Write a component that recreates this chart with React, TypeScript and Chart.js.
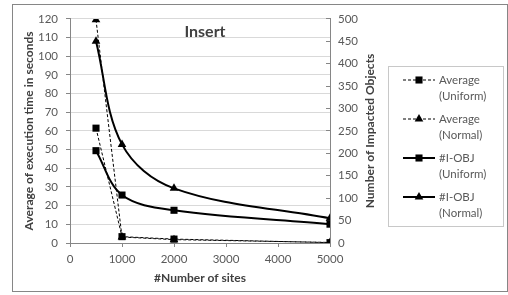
import React, { useEffect, useRef } from "react";
import { Chart, registerables } from "chart.js";

Chart.register(...registerables);

// ---- data ----
const sites = [500, 1000, 2000, 5000];
const avgUniform = [61.5, 3.4, 2.1, 0.2];
const avgNormal = [119.5, 3.2, 1.8, 0.3];
const iobjUniform = [206, 107, 73, 42];
const iobjNormal = [450, 220, 122, 55];
const seriesLabels = [
  ["Average", "(Uniform)"],
  ["Average", "(Normal)"],
  ["#I-OBJ", "(Uniform)"],
  ["#I-OBJ", "(Normal)"],
];
const chartTitle = "Insert";
const xTitle = "#Number of sites";
const yLeftTitle = "Average of execution time in seconds";
const yRightTitle = "Number of Impacted Objects";

const FONT = "Lato, 'Noto Sans', sans-serif";
const TICK_COLOR = "#595959";
const TITLE_COLOR = "#404040";
const AXIS_COLOR = "#868686";
const GRID_COLOR = "#d9d9d9";

function drawMarker(ctx: CanvasRenderingContext2D, style: string, x: number, y: number, r: number) {
  ctx.beginPath();
  if (style === "rect") {
    const s = Math.SQRT1_2 * r;
    ctx.rect(x - s, y - s, 2 * s, 2 * s);
  } else {
    const w = (r * Math.sqrt(3)) / 2;
    ctx.moveTo(x, y - r);
    ctx.lineTo(x + w, y + r / 2);
    ctx.lineTo(x - w, y + r / 2);
    ctx.closePath();
  }
  ctx.fillStyle = "#000";
  ctx.fill();
}

const decor = {
  id: "decor",
  beforeDraw(chart: any) {
    const ctx = chart.ctx as CanvasRenderingContext2D;
    ctx.save();
    ctx.fillStyle = "#fff";
    ctx.fillRect(0, 0, chart.width, chart.height);
    ctx.strokeStyle = AXIS_COLOR;
    ctx.lineWidth = 1;
    ctx.strokeRect(12.5, 4.5, 495, 287);
    ctx.restore();
  },
  afterDraw(chart: any) {
    const ctx = chart.ctx as CanvasRenderingContext2D;
    const area = chart.chartArea;
    ctx.save();
    // title
    ctx.fillStyle = TITLE_COLOR;
    ctx.font = `bold 16px ${FONT}`;
    ctx.textAlign = "center";
    ctx.textBaseline = "middle";
    ctx.fillText(chartTitle, (area.left + area.right) / 2 + 5, area.top + 13);

    // right axis title (reads bottom-to-top)
    ctx.save();
    ctx.translate(chart.scales.y1.right - 15, (area.top + area.bottom) / 2);
    ctx.rotate(-Math.PI / 2);
    ctx.font = `bold 12px ${FONT}`;
    ctx.fillText(yRightTitle, 0, 0);
    ctx.restore();

    // legend
    const lx = 388.5, ly = 66.5, lw = 115, lh = 160;
    ctx.strokeStyle = "#c8c8c8";
    ctx.lineWidth = 1;
    ctx.strokeRect(lx, ly, lw, lh);
    chart.data.datasets.forEach((ds: any, i: number) => {
      const y0 = 80 + i * 39;
      ctx.save();
      ctx.strokeStyle = "#000";
      ctx.lineWidth = ds.borderWidth;
      ctx.setLineDash(ds.borderDash || []);
      ctx.beginPath();
      ctx.moveTo(403, y0);
      ctx.lineTo(435, y0);
      ctx.stroke();
      ctx.restore();
      drawMarker(ctx, ds.pointStyle, 419, y0, ds.pointRadius);
      ctx.fillStyle = TICK_COLOR;
      ctx.font = `11.5px ${FONT}`;
      ctx.textAlign = "left";
      ctx.textBaseline = "middle";
      const lines = seriesLabels[i];
      lines.forEach((t, j) => ctx.fillText(t, 439, y0 + j * 16));
    });
    ctx.restore();
  },
};

export default function App() {
  const ref = useRef<HTMLCanvasElement | null>(null);
  useEffect(() => {
    if (!ref.current) return;
    const pts = (arr: number[]) => sites.map((s, i) => ({ x: s, y: arr[i] }));
    const common = { borderColor: "#000", backgroundColor: "#000", pointRadius: 5, pointBorderWidth: 0 };
    const chart = new Chart(ref.current, {
      type: "line",
      data: {
        datasets: [
          { ...common, label: seriesLabels[0].join(" "), data: pts(avgUniform), yAxisID: "y", borderWidth: 1, borderDash: [3, 2], pointStyle: "rect", tension: 0 },
          { ...common, label: seriesLabels[1].join(" "), data: pts(avgNormal), yAxisID: "y", borderWidth: 1, borderDash: [3, 2], pointStyle: "triangle", tension: 0 },
          { ...common, label: seriesLabels[2].join(" "), data: pts(iobjUniform), yAxisID: "y1", borderWidth: 2, pointStyle: "rect", tension: 0.35 },
          { ...common, label: seriesLabels[3].join(" "), data: pts(iobjNormal), yAxisID: "y1", borderWidth: 2, pointStyle: "triangle", tension: 0.35 },
        ] as any,
      },
      options: {
        animation: false,
        responsive: false,
        devicePixelRatio: 1,
        layout: { padding: { left: 12, right: 123, top: 18, bottom: 4 } },
        plugins: { legend: { display: false }, title: { display: false }, tooltip: { enabled: false } },
        scales: {
          x: {
            type: "linear",
            position: "bottom",
            min: 0,
            max: 5000,
            ticks: { stepSize: 1000, padding: 5, color: TICK_COLOR, font: { family: FONT, size: 11.5 }, callback: (v: any) => String(v) },
            grid: { drawOnChartArea: false, tickLength: 4, color: AXIS_COLOR, tickColor: AXIS_COLOR },
            border: { color: AXIS_COLOR },
            title: { display: true, text: xTitle, color: TITLE_COLOR, font: { family: FONT, size: 12, weight: "bold" }, padding: { top: 0, bottom: 6 } },
            afterFit: (s: any) => { s.height = 48; },
          },
          y: {
            position: "left",
            min: 0,
            max: 120,
            ticks: { stepSize: 10, padding: 8, color: TICK_COLOR, font: { family: FONT, size: 11.5 } },
            grid: { color: GRID_COLOR, tickColor: AXIS_COLOR, tickLength: 4 },
            border: { color: AXIS_COLOR },
            title: { display: true, text: yLeftTitle, color: TITLE_COLOR, font: { family: FONT, size: 12, weight: "bold" }, padding: { top: 10, bottom: 0 } },
            afterFit: (s: any) => { s.width = 58; },
          },
          y1: {
            position: "right",
            min: 0,
            max: 500,
            ticks: { stepSize: 50, padding: 12, color: TICK_COLOR, font: { family: FONT, size: 11.5 } },
            grid: { drawOnChartArea: false, tickLength: -4, color: AXIS_COLOR, tickColor: AXIS_COLOR },
            border: { color: AXIS_COLOR },
            title: { display: false },
            afterFit: (s: any) => { s.width = 55; },
          },
        },
      } as any,
      plugins: [decor],
    });
    return () => chart.destroy();
  }, []);
  return (
    <div style={{ position: "fixed", left: 0, top: 0, width: 508, height: 295 }}>
      <canvas ref={ref} width={508} height={295} />
    </div>
  );
}
